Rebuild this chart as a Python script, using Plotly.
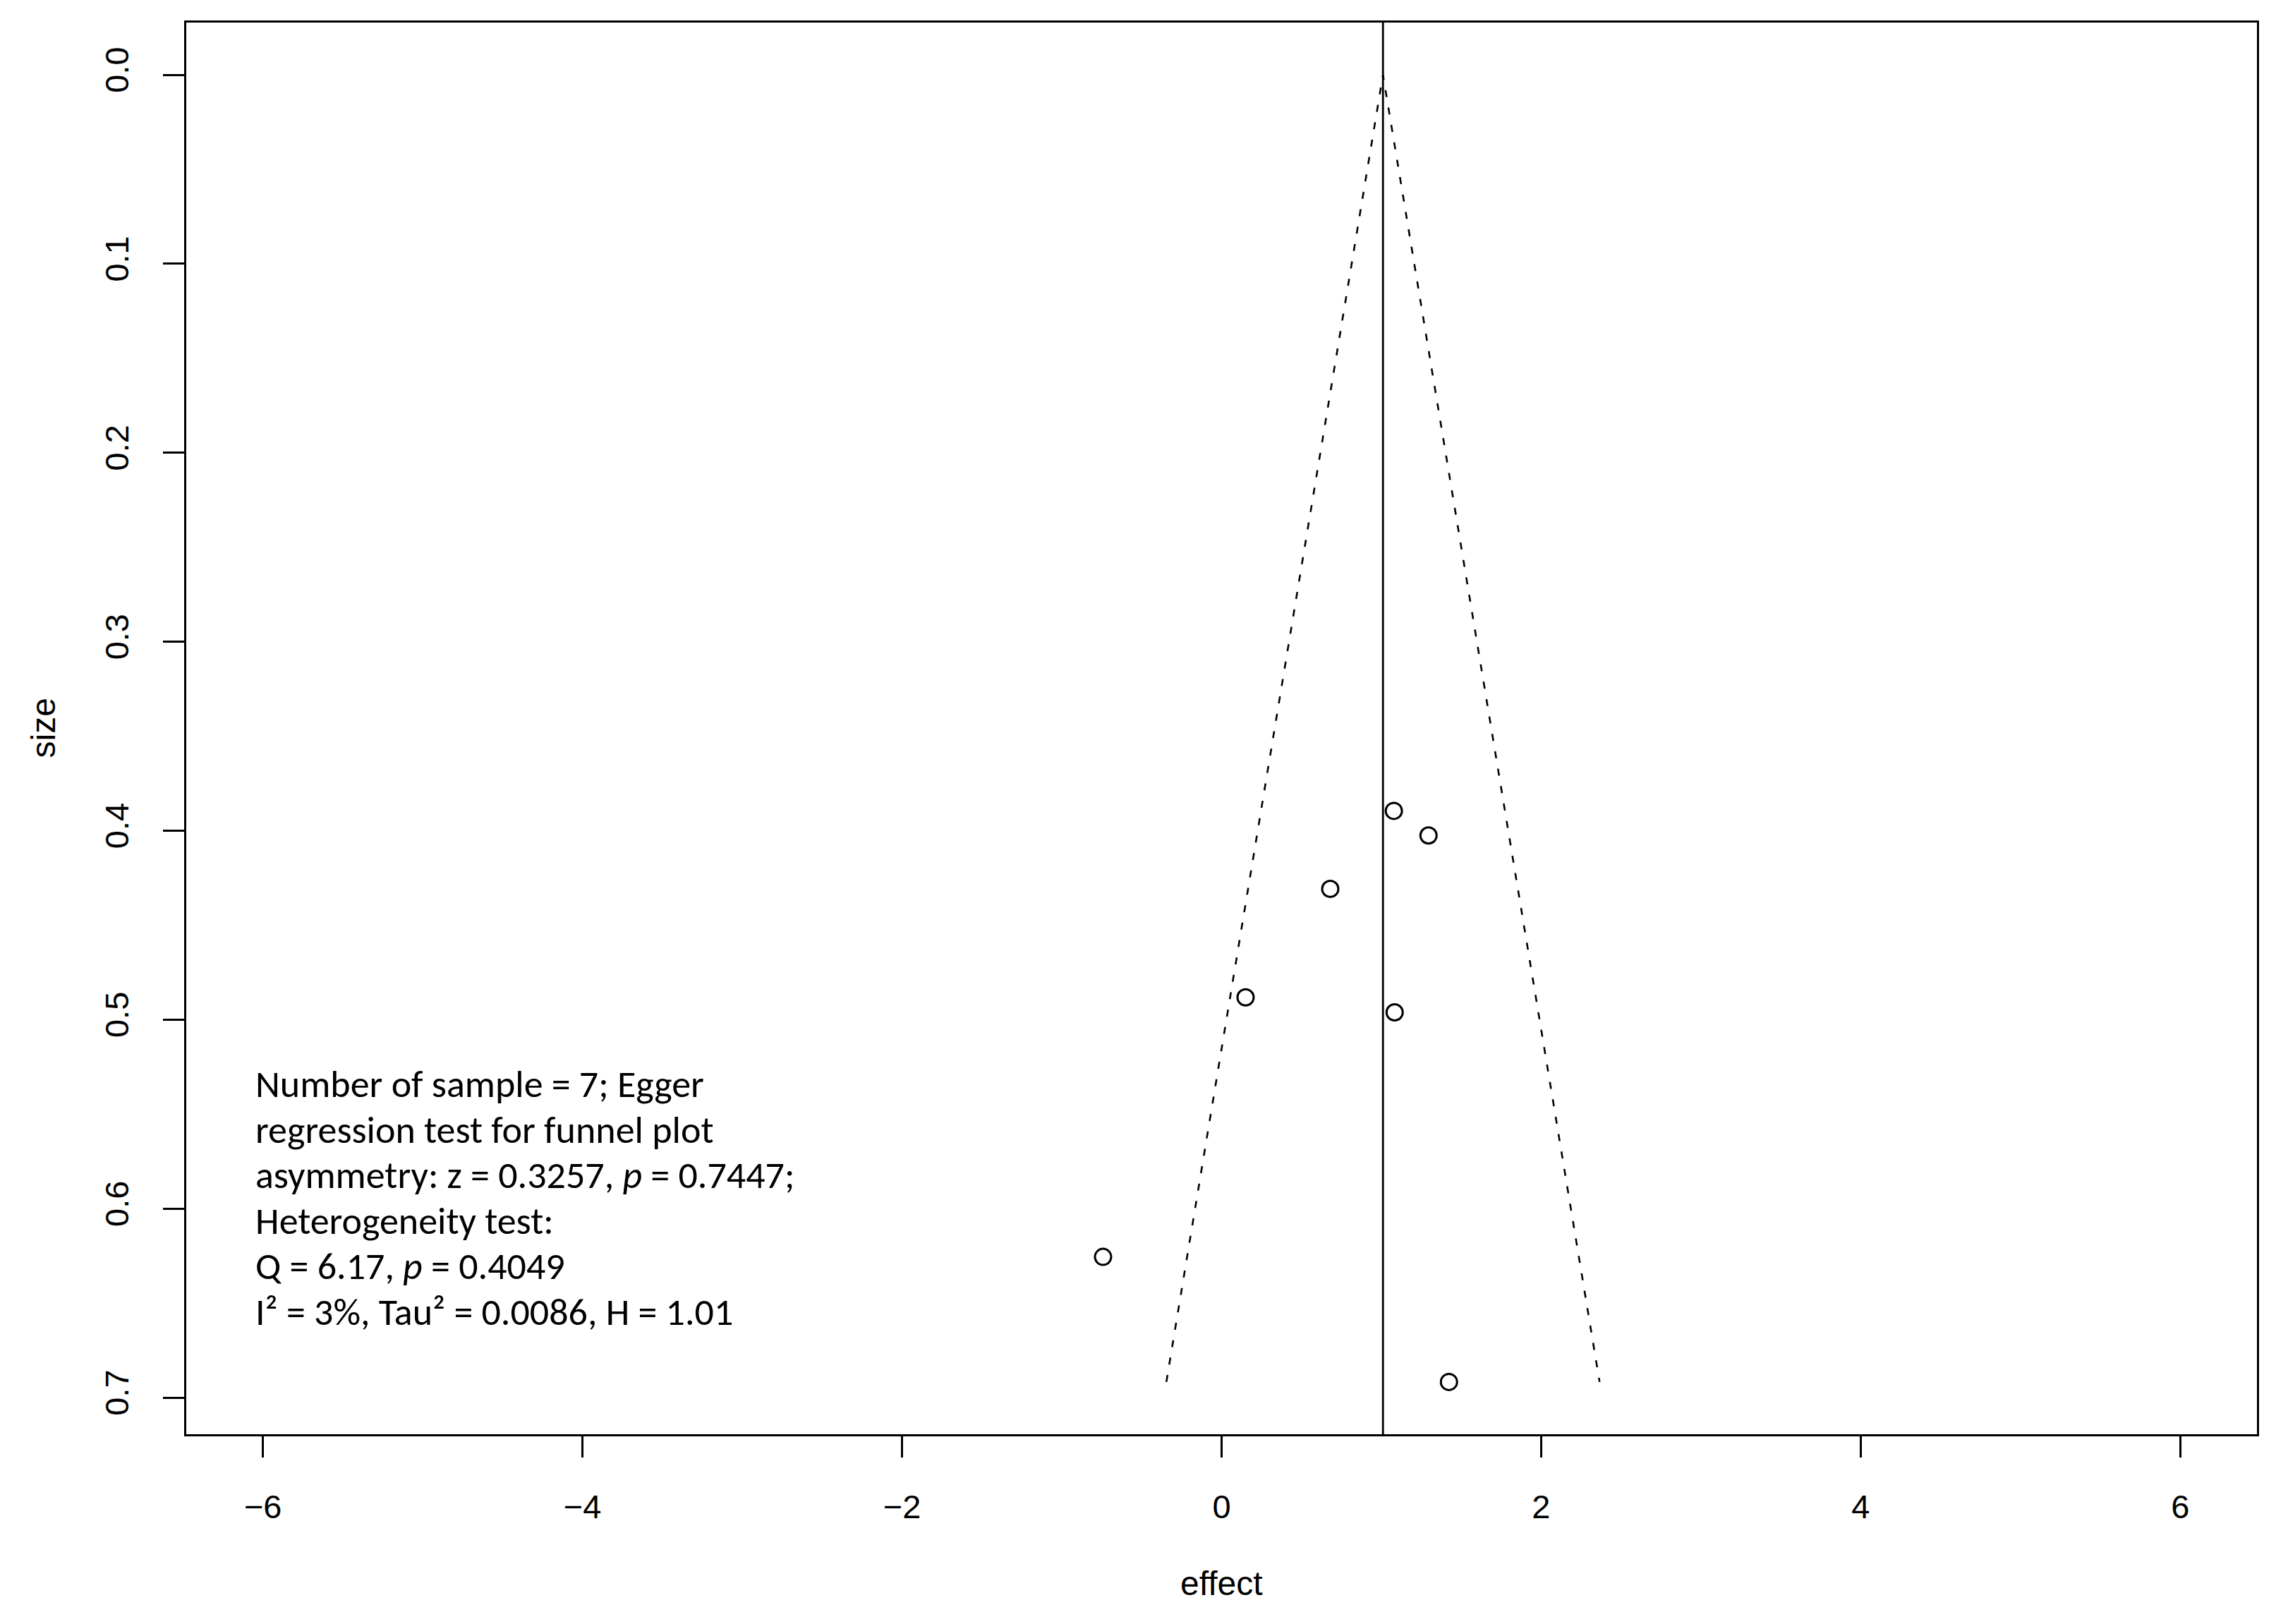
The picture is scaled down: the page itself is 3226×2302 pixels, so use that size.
import plotly.graph_objects as go

# ---- data ----
effect = [1.078, 1.295, 0.680, 0.150, 1.083, -0.742, 1.423]
size = [0.3895, 0.4025, 0.4308, 0.4882, 0.4961, 0.6255, 0.6917]
pooled = 1.01
z_crit = 1.96

x_ticks = [-6, -4, -2, 0, 2, 4, 6]
y_ticks = [0.0, 0.1, 0.2, 0.3, 0.4, 0.5, 0.6, 0.7]
y_ticklabels = ["0.0", "0.1", "0.2", "0.3", "0.4", "0.5", "0.6", "0.7"]

note_lines = [
    "Number of sample = 7; Egger",
    "regression test for funnel plot",
    "asymmetry: z = 0.3257, <i>p</i> = 0.7447;",
    "Heterogeneity test:",
    "Q = 6.17, <i>p</i> = 0.4049",
    "I² = 3%, Tau² = 0.0086, H = 1.01",
]

max_se = max(size)
funnel_x = [pooled - z_crit * max_se, pooled, pooled + z_crit * max_se]
funnel_y = [max_se, 0.0, max_se]

W, H = 3210, 2286
tick_font = dict(family="Liberation Sans, Arial, sans-serif", size=47, color="black")

fig = go.Figure()
fig.add_trace(go.Scatter(
    x=funnel_x, y=funnel_y, mode="lines",
    line=dict(color="black", width=2.6, dash="10px,15px"),
    hoverinfo="skip", showlegend=False,
))
fig.add_trace(go.Scatter(
    x=effect, y=size, mode="markers",
    marker=dict(symbol="circle-open", size=23, color="black", line=dict(width=3, color="black")),
    showlegend=False,
))

fig.add_shape(type="line", xref="x", yref="paper", x0=pooled, x1=pooled, y0=0, y1=1,
              line=dict(color="black", width=2.8))

x_rng = [-6.48, 6.48]
y_rng = [max_se * 1.04, -max_se * 0.04]

fig.update_xaxes(range=x_rng, tickvals=x_ticks, ticktext=[("−" + str(-v)) if v < 0 else str(v) for v in x_ticks],
                 showgrid=False, zeroline=False, showline=True, linecolor="black", linewidth=3,
                 mirror=True, ticks="outside", ticklen=30, tickwidth=2.5, tickcolor="black",
                 tickfont=tick_font, ticklabelstandoff=30)
fig.update_yaxes(range=y_rng, tickvals=y_ticks, ticktext=y_ticklabels,
                 showgrid=False, zeroline=False, showline=True, linecolor="black", linewidth=3,
                 mirror=True, ticks="outside", ticklen=30, tickwidth=2.5, tickcolor="black",
                 tickfont=tick_font, tickangle=-90, ticklabelstandoff=30)

annotations = []
y0_note, dy_note = 0.5342, 0.0241
for i, line in enumerate(note_lines):
    annotations.append(dict(
        x=-6.054, y=y0_note + i * dy_note, xref="x", yref="y",
        text=line, showarrow=False, xanchor="left", yanchor="middle",
        font=dict(family="Carlito, Calibri, Lato, sans-serif", size=54, color="black"),
    ))
annotations.append(dict(x=0.5, y=0, xref="paper", yref="paper", yshift=-211, text="effect",
                        showarrow=False, xanchor="center", yanchor="middle",
                        font=dict(family="Liberation Sans, Arial, sans-serif", size=48, color="black")))
annotations.append(dict(x=0, y=0.5, xref="paper", yref="paper", xshift=-203, text="size",
                        textangle=-90, showarrow=False, xanchor="center", yanchor="middle",
                        font=dict(family="Liberation Sans, Arial, sans-serif", size=48, color="black")))

fig.update_layout(
    width=W, height=H,
    margin=dict(l=256, r=19, t=24, b=261),
    plot_bgcolor="white", paper_bgcolor="white",
    annotations=annotations,
    showlegend=False,
)

fig.write_html("out.html")
